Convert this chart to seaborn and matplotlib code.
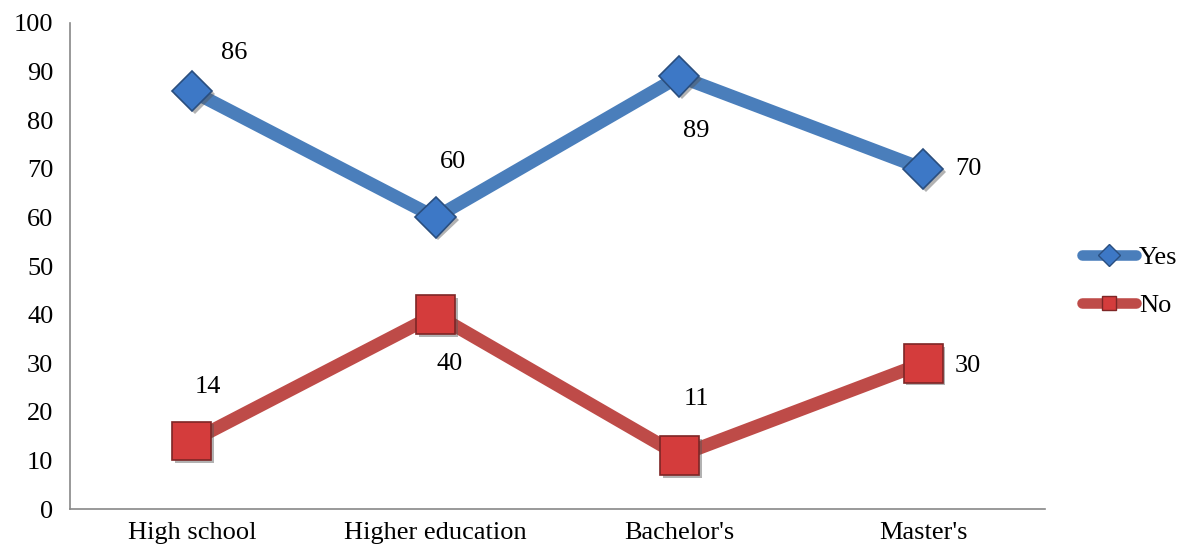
import matplotlib
matplotlib.use("Agg")
import matplotlib.pyplot as plt
import matplotlib.patheffects as pe
from matplotlib.lines import Line2D
import pandas as pd
import seaborn as sns

categories = ["High school", "Higher education", "Bachelor's", "Master's"]
yes_values = [86, 60, 89, 70]
no_values = [14, 40, 11, 30]
series_names = ["Yes", "No"]

sns.set_theme(style="white")
plt.rcParams["font.family"] = ["Liberation Serif", "DejaVu Serif"]
plt.rcParams["text.color"] = "black"
plt.rcParams["xtick.color"] = "#888888"
plt.rcParams["ytick.color"] = "#888888"
plt.rcParams["xtick.labelcolor"] = "black"
plt.rcParams["ytick.labelcolor"] = "black"

df = pd.DataFrame({
    "level": categories * 2,
    "pos": list(range(len(categories))) * 2,
    "value": yes_values + no_values,
    "answer": [series_names[0]] * len(categories) + [series_names[1]] * len(categories),
})

line_colors = {"Yes": "#4A7EBB", "No": "#BE4B48"}
marker_fill = {"Yes": "#3D78C6", "No": "#D43C3C"}
marker_edge = {"Yes": "#2A4E7E", "No": "#7E2626"}
FS = 19
LW = 9.5

fig = plt.figure(figsize=(11.84, 5.54), dpi=100)
ax = fig.add_axes([0.0591, 0.0812, 0.8235, 0.8773])

sns.lineplot(data=df, x="pos", y="value", hue="answer",
             palette=line_colors, linewidth=LW, ax=ax, legend=False, sort=False)
for ln in ax.lines:
    ln.set_solid_capstyle("round")

shadow = [pe.SimplePatchShadow(offset=(2, -2), shadow_rgbFace="#555555", alpha=0.45), pe.Normal()]
for name, vals, mk, ms in [("Yes", yes_values, "D", 20.5), ("No", no_values, "s", 28)]:
    ax.plot(range(len(vals)), vals, linestyle="none", marker=mk, markersize=ms,
            markerfacecolor=marker_fill[name], markeredgecolor=marker_edge[name],
            markeredgewidth=1.2, zorder=5, path_effects=shadow)

# value labels, offsets in pixels from each point
yes_offsets = [(42, 38), (17, 55), (17, -55), (45, 0)]
no_offsets = [(16, 54), (14, -49), (17, 57), (45, -3)]
for vals, offs in [(yes_values, yes_offsets), (no_values, no_offsets)]:
    for i, (v, (dx, dy)) in enumerate(zip(vals, offs)):
        ax.annotate(f"{v}", (i, v), xytext=(dx, dy), textcoords="offset pixels",
                    ha="center", va="center", fontsize=FS, color="black")

ax.set_xlim(-0.5, len(categories) - 0.5)
ax.set_ylim(0, 100)
ax.set_yticks(range(0, 101, 10))
ax.set_xticks(range(len(categories)))
ax.set_xticklabels(categories)
ax.set_xticks([i - 0.5 for i in range(len(categories) + 1)], minor=True)
ax.tick_params(axis="x", which="major", length=0, pad=9, labelsize=FS)
ax.tick_params(axis="x", which="minor", length=6, width=1.2, direction="out")
ax.tick_params(axis="y", length=6, width=1.2, direction="out", pad=6, labelsize=FS)
ax.set_xlabel("")
ax.set_ylabel("")
for side in ["top", "right"]:
    ax.spines[side].set_visible(False)
for side in ["left", "bottom"]:
    ax.spines[side].set_color("#888888")
    ax.spines[side].set_linewidth(1.2)

# legend with line + marker glyphs
handles = []
for name, mk, ms in [("Yes", "D", 11), ("No", "s", 10.5)]:
    handles.append(Line2D([0], [0], color=line_colors[name], linewidth=LW * 0.8, solid_capstyle="round",
                          marker=mk, markersize=ms, markerfacecolor=marker_fill[name],
                          markeredgecolor=marker_edge[name]))
fig.legend(handles, series_names, loc="center left", bbox_to_anchor=(0.914, 0.492),
           frameon=False, fontsize=FS, handlelength=2.05, handletextpad=0.1,
           labelspacing=0.95, borderaxespad=0, borderpad=0)

fig.savefig("out.png", dpi=100)
